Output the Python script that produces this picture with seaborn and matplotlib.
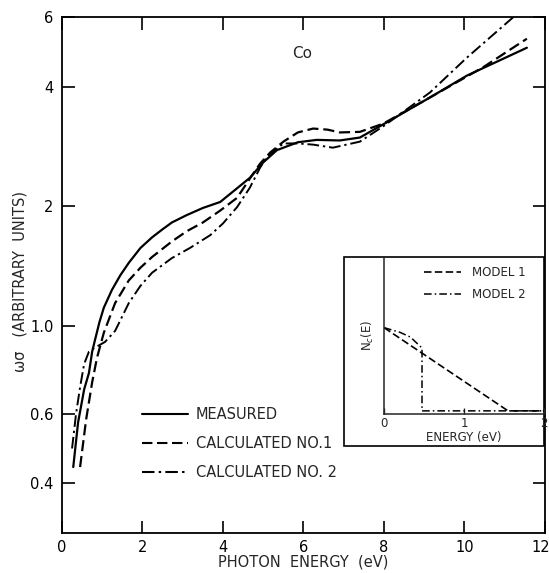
import numpy as np
import pandas as pd
import matplotlib
matplotlib.use("Agg")
import matplotlib.pyplot as plt
import matplotlib.ticker as mticker
import matplotlib.transforms as mtransforms
from matplotlib.patches import Rectangle
import seaborn as sns

sns.set_style("ticks")
plt.rcParams['font.family'] = ['DejaVu Sans']

# Main curves (photon energy in eV, omega*sigma in arbitrary units)
measured_e = [0.28, 0.40, 0.55, 0.67, 0.75, 0.82, 0.93, 1.04, 1.24, 1.45, 1.66, 1.95, 2.24, 2.50,
              2.73, 3.10, 3.50, 3.93, 4.35, 4.67, 5.00, 5.34, 5.86, 6.33, 6.90, 7.40, 8.15, 9.14,
              10.06, 11.55]
measured_y = [0.44, 0.57, 0.69, 0.76, 0.86, 0.92, 1.02, 1.11, 1.23, 1.34, 1.44, 1.57, 1.67, 1.75,
              1.82, 1.90, 1.98, 2.05, 2.22, 2.36, 2.58, 2.77, 2.90, 2.94, 2.93, 2.98, 3.29, 3.76,
              4.27, 5.02]

calc1_e = [0.45, 0.60, 0.75, 0.87, 1.04, 1.32, 1.66, 1.95, 2.24, 2.73, 3.10, 3.50, 3.93, 4.35,
           4.67, 4.92, 5.17, 5.50, 5.86, 6.24, 6.60, 6.90, 7.40, 7.98, 9.14, 10.46, 11.55]
calc1_y = [0.44, 0.58, 0.72, 0.83, 0.96, 1.14, 1.30, 1.40, 1.49, 1.63, 1.73, 1.82, 1.95, 2.10,
           2.35, 2.56, 2.73, 2.91, 3.07, 3.14, 3.12, 3.07, 3.08, 3.23, 3.76, 4.48, 5.29]

calc2_e = [0.25, 0.35, 0.45, 0.55, 0.67, 0.82, 1.07, 1.32, 1.66, 1.95, 2.24, 2.73, 3.18, 3.68,
           4.00, 4.35, 4.67, 4.92, 5.09, 5.50, 5.86, 6.24, 6.73, 7.40, 7.98, 9.14, 10.06, 11.20,
           11.50]
calc2_y = [0.49, 0.60, 0.70, 0.80, 0.86, 0.88, 0.91, 0.97, 1.14, 1.26, 1.36, 1.48, 1.57, 1.69,
           1.81, 1.99, 2.23, 2.50, 2.66, 2.88, 2.88, 2.86, 2.81, 2.91, 3.18, 3.87, 4.74, 5.98,
           6.35]

# Inset: N_c(E) models
model1_e = [0.0, 1.55, 2.0]
model1_n = [0.55, 0.02, 0.02]
model2_e = [0.0, 0.20, 0.33, 0.475, 0.475, 2.0]
model2_n = [0.55, 0.52, 0.49, 0.42, 0.02, 0.02]

x_ticks = [0, 2, 4, 6, 8, 10, 12]
y_ticks = [0.4, 0.6, 1.0, 2, 4, 6]
y_ticklabels = ["0.4", "0.6", "1.0", "2", "4", "6"]

dashed = (0, (5, 2.2))
dashdot = (0, (6, 2, 1.2, 2))

fig = plt.figure(figsize=(5.49, 5.73), dpi=100)
ax = fig.add_axes([0.1129, 0.0698, 0.8798, 0.9005])

sns.lineplot(x=measured_e, y=measured_y, ax=ax, color='black', lw=1.6,
             sort=False, estimator=None, label="MEASURED")
sns.lineplot(x=calc1_e, y=calc1_y, ax=ax, color='black', lw=1.6, linestyle=dashed,
             sort=False, estimator=None, label="CALCULATED NO.1")
sns.lineplot(x=calc2_e, y=calc2_y, ax=ax, color='black', lw=1.4, linestyle=dashdot,
             sort=False, estimator=None, label="CALCULATED NO. 2")

ax.set_yscale('log')
ax.set_xlim(0, 12)
ax.set_ylim(0.3, 6)
ax.set_xticks(x_ticks)
ax.set_xticklabels([str(t) for t in x_ticks])
ax.yaxis.set_major_locator(mticker.FixedLocator(y_ticks))
ax.yaxis.set_minor_locator(mticker.NullLocator())
ax.set_yticklabels(y_ticklabels)
ax.tick_params(direction='in', length=9, width=1.2, labelsize=10.5, top=True, right=True,
               colors='black')
ax.tick_params(axis='x', pad=5)
ax.tick_params(axis='y', pad=6)
for s in ax.spines.values():
    s.set_linewidth(1.3)
    s.set_color('black')

# keep the "12" label inside the figure
last = ax.get_xticklabels()[-1]
last.set_transform(last.get_transform() +
                   mtransforms.ScaledTranslation(-4 / 100, 0, fig.dpi_scale_trans))

ax.set_xlabel("PHOTON  ENERGY  (eV)", fontsize=10.5, labelpad=0)
ax.set_ylabel("ωσ   (ARBITRARY  UNITS)", fontsize=10.5)
ax.yaxis.set_label_coords(-0.072, 0.488)
ax.text(5.96, 4.85, "Co", fontsize=11, ha='center', va='center')

leg = ax.legend(loc='upper left', bbox_to_anchor=(0.15, 0.258), frameon=False,
                fontsize=10.5, handlelength=3.2, labelspacing=0.95, handletextpad=0.5,
                borderpad=0)
for h in leg.get_lines():
    h.set_linewidth(1.5)

# Inset box
fig.patches.append(Rectangle((0.6266, 0.2216), 0.3643, 0.3298, transform=fig.transFigure,
                             facecolor='white', edgecolor='black', lw=1.2, zorder=5))
ins = fig.add_axes([0.6995, 0.2775, 0.2914, 0.274], zorder=6)
ins.patch.set_alpha(0)
sns.lineplot(x=model1_e, y=model1_n, ax=ins, color='black', lw=1.2, linestyle=(0, (4.5, 2)),
             sort=False, estimator=None, label="MODEL 1")
sns.lineplot(x=model2_e, y=model2_n, ax=ins, color='black', lw=1.1, linestyle=(0, (5, 2, 1, 2)),
             sort=False, estimator=None, label="MODEL 2")
ins.set_xlim(0, 2)
ins.set_ylim(0, 1)
ins.set_xticks([0, 1, 2])
ins.set_xticklabels(["0", "1", "2"])
ins.set_yticks([])
ins.tick_params(direction='in', length=4, width=1, labelsize=8.5, pad=2)
ins.spines['top'].set_visible(False)
ins.spines['right'].set_visible(False)
ins.spines['left'].set_linewidth(1.1)
ins.spines['bottom'].set_linewidth(1.1)
ins.set_xlabel("ENERGY (eV)", fontsize=8.5, labelpad=1)
ins.set_ylabel("N$_c$(E)", fontsize=8.5, labelpad=6)
ins.legend(loc='upper left', bbox_to_anchor=(0.21, 0.98), frameon=False, fontsize=8.5,
           handlelength=3.2, labelspacing=0.8, handletextpad=0.9, borderpad=0)

fig.savefig("out.png", dpi=100)
